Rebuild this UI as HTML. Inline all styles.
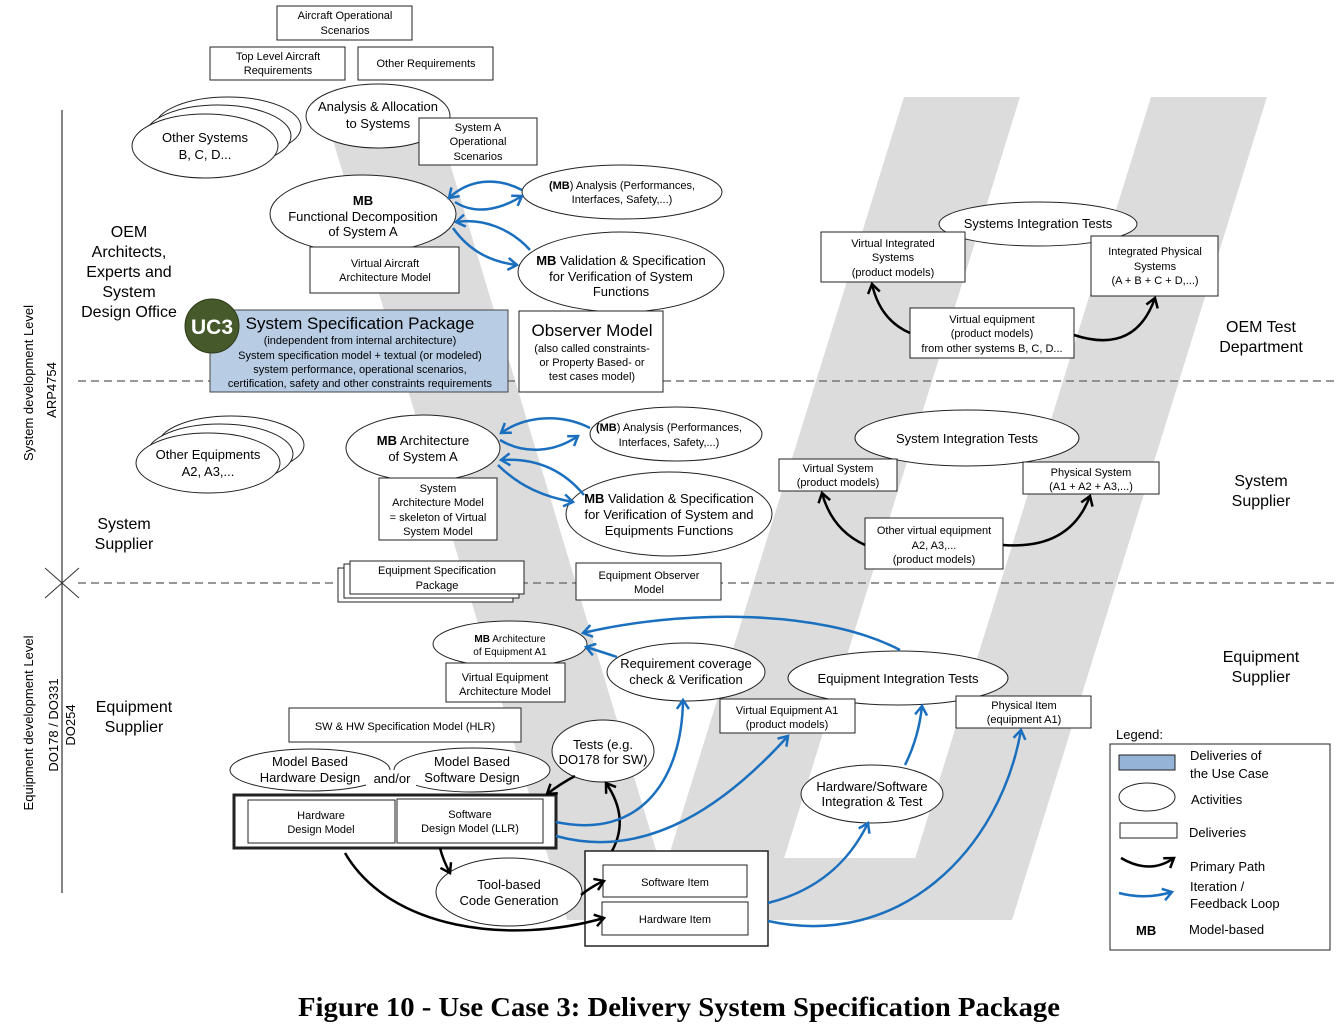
<!DOCTYPE html>
<html><head><meta charset="utf-8"><style>
html,body{margin:0;padding:0;background:#fff;}
svg{display:block;}
text{font-family:"Liberation Sans",Arial,sans-serif;fill:#000;}
</style></head><body>
<svg width="1338" height="1026" viewBox="0 0 1338 1026" xmlns="http://www.w3.org/2000/svg">
<defs>
<marker id="ab" markerUnits="userSpaceOnUse" markerWidth="16" markerHeight="16" refX="11" refY="7" orient="auto"><path d="M2,1 L11,7 L2,13" fill="none" stroke="#000" stroke-width="2.5"/></marker>
<marker id="bb" markerUnits="userSpaceOnUse" markerWidth="16" markerHeight="16" refX="11" refY="7" orient="auto"><path d="M2,1 L11,7 L2,13" fill="none" stroke="#1a6fbe" stroke-width="2.5"/></marker>
</defs>
<g fill="#dcdcdc">
<polygon points="320,97 430,97 677,920 567,920"/>
<polygon points="904,97 1020,97 765,920 649,920"/>
<polygon points="1151,97 1267,97 1012,920 896,920"/>
<rect x="590" y="858" width="422" height="62"/>
</g>
<line x1="62" y1="110" x2="62" y2="893" stroke="#333" stroke-width="1.2"/>
<line x1="45" y1="568" x2="79" y2="598" stroke="#333"/>
<line x1="45" y1="598" x2="79" y2="568" stroke="#333"/>
<line x1="78" y1="381" x2="1338" y2="381" stroke="#777" stroke-width="1.5" stroke-dasharray="8,5"/>
<line x1="78" y1="583" x2="1338" y2="583" stroke="#777" stroke-width="1.5" stroke-dasharray="8,5"/>
<text transform="translate(33,383) rotate(-90)" text-anchor="middle" font-size="13">System development Level</text>
<text transform="translate(56,390) rotate(-90)" text-anchor="middle" font-size="13">ARP4754</text>
<text transform="translate(33,723) rotate(-90)" text-anchor="middle" font-size="13">Equipment development Level</text>
<text transform="translate(58,725) rotate(-90)" text-anchor="middle" font-size="13">DO178 / DO331</text>
<text transform="translate(75,725) rotate(-90)" text-anchor="middle" font-size="13">DO254</text>

<g fill="#fff" stroke="#222" stroke-width="1">
<rect x="277" y="6" width="135" height="34"/>
<rect x="210" y="47" width="135" height="33"/>
<rect x="358" y="47" width="135" height="33"/>
<ellipse cx="228" cy="127" rx="73" ry="30"/>
<ellipse cx="218" cy="136" rx="73" ry="31"/>
<ellipse cx="205" cy="146" rx="73" ry="32"/>
<ellipse cx="378" cy="116" rx="72" ry="32"/>
<rect x="419" y="118" width="118" height="47"/>
<ellipse cx="363" cy="214" rx="93" ry="39"/>
<rect x="310" y="247" width="149" height="46"/>
<ellipse cx="622" cy="192" rx="100" ry="27"/>
<ellipse cx="621" cy="272" rx="103" ry="40"/>
<rect x="210" y="310" width="298" height="82" fill="#b8cce4" stroke="#444"/>
<rect x="519" y="311" width="144" height="81"/>
<ellipse cx="231" cy="445" rx="73" ry="29"/>
<ellipse cx="220" cy="454" rx="73" ry="30"/>
<ellipse cx="208" cy="463" rx="72" ry="30"/>
<ellipse cx="423" cy="448" rx="77" ry="33"/>
<rect x="379" y="478" width="118" height="62"/>
<ellipse cx="676" cy="434" rx="86" ry="27"/>
<ellipse cx="669" cy="514" rx="103" ry="42"/>
<rect x="338" y="568" width="175" height="34"/>
<rect x="344" y="564" width="175" height="34"/>
<rect x="350" y="561" width="174" height="33"/>
<rect x="576" y="563" width="145" height="37"/>
<ellipse cx="1038" cy="224" rx="99" ry="22"/>
<rect x="821" y="232" width="144" height="50"/>
<rect x="1091" y="236" width="127" height="60"/>
<rect x="910" y="308" width="164" height="50"/>
<ellipse cx="967" cy="438" rx="112" ry="28"/>
<rect x="779" y="459" width="118" height="32"/>
<rect x="1023" y="462" width="136" height="32"/>
<rect x="865" y="518" width="138" height="51"/>
<ellipse cx="510" cy="644" rx="77" ry="23"/>
<rect x="446" y="663" width="119" height="39"/>
<ellipse cx="686" cy="672" rx="79" ry="29"/>
<ellipse cx="898" cy="678" rx="110" ry="27"/>
<rect x="720" y="699" width="135" height="34"/>
<rect x="956" y="696" width="135" height="32"/>
<rect x="289" y="708" width="232" height="34"/>
<ellipse cx="310" cy="770" rx="80" ry="21"/>
<ellipse cx="472" cy="770" rx="78" ry="22"/>
<ellipse cx="603" cy="751" rx="51" ry="31"/>
<rect x="234" y="795" width="322" height="53" stroke-width="3"/>
<rect x="248" y="800" width="147" height="43"/>
<rect x="397" y="799" width="146" height="44"/>
<ellipse cx="509" cy="892" rx="73" ry="34"/>
<rect x="585" y="851" width="183" height="95" stroke-width="1.5"/>
<rect x="603" y="865" width="144" height="32"/>
<rect x="602" y="902" width="146" height="33"/>
<ellipse cx="872" cy="794" rx="71" ry="29"/>
<rect x="1110" y="744" width="220" height="206"/>
<rect x="1119" y="755" width="56" height="15" fill="#95b3d7"/>
<ellipse cx="1147" cy="797" rx="28" ry="14"/>
<rect x="1120" y="823" width="57" height="15"/>
</g>
<rect x="366" y="770" width="50" height="18" fill="#fff"/>
<text x="392" y="783" font-size="13" text-anchor="middle">and/or</text>

<g fill="none" stroke="#000" stroke-width="2.5" marker-end="url(#ab)">
<path d="M910,333 Q880,320 872,284"/>
<path d="M1074,335 Q1135,355 1155,298"/>
<path d="M865,545 Q832,530 822,493"/>
<path d="M1003,545 Q1070,550 1090,496"/>
<path d="M575,776 Q560,784 547,794"/>
<path d="M612,851 Q630,818 606,783"/>
<path d="M440,848 Q443,860 450,873"/>
<path d="M581,895 Q592,886 604,881"/>
<path d="M345,853 C390,930 510,945 604,918"/>
<path d="M1121,858 Q1150,875 1174,858"/>
</g>
<g fill="none" stroke="#1a6fbe" stroke-width="2.5" marker-end="url(#bb)">
<path d="M522,190 C495,176 468,180 449,198"/>
<path d="M455,202 C475,215 500,210 522,196"/>
<path d="M530,250 C510,228 482,218 456,222"/>
<path d="M453,228 C470,252 492,262 517,265"/>
<path d="M590,428 C560,413 525,416 501,433"/>
<path d="M500,440 C525,455 555,452 578,436"/>
<path d="M584,495 C560,466 530,458 501,460"/>
<path d="M498,465 C520,487 545,497 573,502"/>
<path d="M900,650 C820,608 680,610 583,633"/>
<path d="M617,657 C605,653 596,650 586,647"/>
<path d="M556,822 C640,840 682,780 683,700"/>
<path d="M556,836 C650,862 730,800 788,736"/>
<path d="M905,765 C915,745 920,725 922,706"/>
<path d="M768,903 C820,890 850,860 868,823"/>
<path d="M768,921 C900,950 1000,850 1021,730"/>
<path d="M1119,893 Q1145,900 1172,892"/>
</g>

<circle cx="212" cy="326" r="27" fill="#46592a" stroke="#2e3a1b"/>
<text x="212" y="334" font-size="21" font-weight="bold" text-anchor="middle" style="fill:#fff">UC3</text>

<g text-anchor="middle">
<g font-size="11">
<text x="345" y="19">Aircraft Operational</text><text x="345" y="34">Scenarios</text>
<text x="278" y="60">Top Level Aircraft</text><text x="278" y="74">Requirements</text>
<text x="426" y="67">Other Requirements</text>
<text x="478" y="131">System A</text><text x="478" y="145">Operational</text><text x="478" y="160">Scenarios</text>
<text x="385" y="267">Virtual Aircraft</text><text x="385" y="281">Architecture Model</text>
<text x="622" y="189"><tspan font-weight="bold">(MB</tspan>) Analysis (Performances,</text><text x="622" y="203">Interfaces, Safety,...)</text>
<text x="360" y="344">(independent from internal architecture)</text>
<text x="360" y="359">System specification model + textual (or modeled)</text>
<text x="360" y="373">system performance, operational scenarios,</text>
<text x="360" y="387">certification, safety and other constraints requirements</text>
<text x="592" y="352">(also called constraints-</text><text x="592" y="366">or Property Based- or</text><text x="592" y="380">test cases model)</text>
<text x="438" y="492">System</text><text x="438" y="506">Architecture Model</text><text x="438" y="521">= skeleton of Virtual</text><text x="438" y="535">System Model</text>
<text x="669" y="431"><tspan font-weight="bold">(MB</tspan>) Analysis (Performances,</text><text x="669" y="446">Interfaces, Safety,...)</text>
<text x="437" y="574">Equipment Specification</text><text x="437" y="589">Package</text>
<text x="649" y="579">Equipment Observer</text><text x="649" y="593">Model</text>
<text x="893" y="247">Virtual Integrated</text><text x="893" y="261">Systems</text><text x="893" y="276">(product models)</text>
<text x="1155" y="255">Integrated Physical</text><text x="1155" y="270">Systems</text><text x="1155" y="284">(A + B + C + D,...)</text>
<text x="992" y="323">Virtual equipment</text><text x="992" y="337">(product models)</text><text x="992" y="352">from other systems B, C, D...</text>
<text x="838" y="472">Virtual System</text><text x="838" y="486">(product models)</text>
<text x="1091" y="476">Physical System</text><text x="1091" y="490">(A1 + A2 + A3,...)</text>
<text x="934" y="534">Other virtual equipment</text><text x="934" y="549">A2, A3,...</text><text x="934" y="563">(product models)</text>
<text x="787" y="714">Virtual Equipment A1</text><text x="787" y="728">(product models)</text>
<text x="1024" y="709">Physical Item</text><text x="1024" y="723">(equipment A1)</text>
<text x="505" y="681">Virtual Equipment</text><text x="505" y="695">Architecture Model</text>
<text x="405" y="730">SW &amp; HW Specification Model (HLR)</text>
<text x="321" y="819">Hardware</text><text x="321" y="833">Design Model</text>
<text x="470" y="818">Software</text><text x="470" y="832">Design Model (LLR)</text>
<text x="675" y="886">Software Item</text>
<text x="675" y="923">Hardware Item</text>
</g>
<g font-size="10"><text x="510" y="642"><tspan font-weight="bold">MB</tspan> Architecture</text><text x="510" y="655">of Equipment A1</text></g>
<g font-size="13">
<text x="205" y="142">Other Systems</text><text x="205" y="159">B, C, D...</text>
<text x="378" y="111">Analysis &amp; Allocation</text><text x="378" y="128">to Systems</text>
<text x="363" y="205" font-weight="bold">MB</text><text x="363" y="221">Functional Decomposition</text><text x="363" y="236">of System A</text>
<text x="621" y="265"><tspan font-weight="bold">MB</tspan> Validation &amp; Specification</text><text x="621" y="281">for Verification of System</text><text x="621" y="296">Functions</text>
<text x="208" y="459">Other Equipments</text><text x="208" y="476">A2, A3,...</text>
<text x="423" y="445"><tspan font-weight="bold">MB</tspan> Architecture</text><text x="423" y="461">of System A</text>
<text x="669" y="503"><tspan font-weight="bold">MB</tspan> Validation &amp; Specification</text><text x="669" y="519">for Verification of System and</text><text x="669" y="535">Equipments Functions</text>
<text x="1038" y="228">Systems Integration Tests</text>
<text x="967" y="443">System Integration Tests</text>
<text x="686" y="668">Requirement coverage</text><text x="686" y="684">check &amp; Verification</text>
<text x="898" y="683">Equipment Integration Tests</text>
<text x="310" y="766">Model Based</text><text x="310" y="782">Hardware Design</text>
<text x="472" y="766">Model Based</text><text x="472" y="782">Software Design</text>
<text x="603" y="749">Tests (e.g.</text><text x="603" y="764">DO178 for SW)</text>
<text x="509" y="889">Tool-based</text><text x="509" y="905">Code Generation</text>
<text x="872" y="791">Hardware/Software</text><text x="872" y="806">Integration &amp; Test</text>
</g>
<g font-size="16">
<text x="129" y="237">OEM</text><text x="129" y="257">Architects,</text><text x="129" y="277">Experts and</text><text x="129" y="297">System</text><text x="129" y="317">Design Office</text>
<text x="124" y="529">System</text><text x="124" y="549">Supplier</text>
<text x="134" y="712">Equipment</text><text x="134" y="732">Supplier</text>
<text x="1261" y="332">OEM Test</text><text x="1261" y="352">Department</text>
<text x="1261" y="486">System</text><text x="1261" y="506">Supplier</text>
<text x="1261" y="662">Equipment</text><text x="1261" y="682">Supplier</text>
<text x="592" y="336" font-size="17">Observer Model</text>
</g>
<text x="360" y="329" font-size="17">System Specification Package</text>
</g>
<g font-size="13">
<text x="1116" y="739">Legend:</text>
<text x="1190" y="760">Deliveries of</text><text x="1190" y="778">the Use Case</text>
<text x="1191" y="804">Activities</text>
<text x="1189" y="837">Deliveries</text>
<text x="1190" y="871">Primary Path</text>
<text x="1190" y="891">Iteration /</text><text x="1190" y="908">Feedback Loop</text>
<text x="1136" y="935" font-weight="bold">MB</text>
<text x="1189" y="934">Model-based</text>
</g>
<text x="298" y="1016" font-size="27" font-weight="bold" textLength="762" lengthAdjust="spacingAndGlyphs" style="font-family:'Liberation Serif','Times New Roman',serif">Figure 10 - Use Case 3: Delivery System Specification Package</text>
</svg>
</body></html>
